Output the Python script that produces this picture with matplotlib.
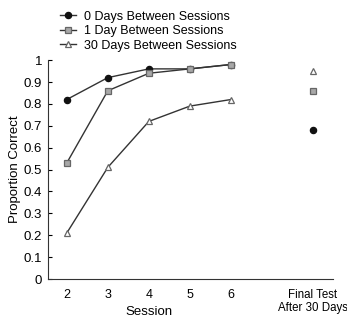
import matplotlib.pyplot as plt

plt.rcParams['font.family'] = ['Liberation Sans', 'DejaVu Sans']

sessions = [2, 3, 4, 5, 6]
final_x = 8
tick_labels = ['2', '3', '4', '5', '6', 'Final Test\nAfter 30 Days']

days0 = [0.82, 0.92, 0.96, 0.96, 0.98]
days1 = [0.53, 0.86, 0.94, 0.96, 0.98]
days30 = [0.21, 0.51, 0.72, 0.79, 0.82]
final0 = 0.68
final1 = 0.86
final30 = 0.95

fig = plt.figure(figsize=(3.47, 3.25), dpi=100)
ax = fig.add_axes([0.138, 0.1415, 0.822, 0.6735])

line_c = '#333333'
styles = [
    (days0, final0, 'o', '#111111', '#111111', '0 Days Between Sessions'),
    (days1, final1, 's', '#a8a8a8', '#666666', '1 Day Between Sessions'),
    (days30, final30, '^', 'white', '#666666', '30 Days Between Sessions'),
]
for vals, fin, m, fc, ec, lab in styles:
    ax.plot(sessions, vals, color=line_c, lw=1, marker=m, ms=4.5,
            mfc=fc, mec=ec, mew=0.9, label=lab)
    ax.plot([final_x], [fin], ls='none', marker=m, ms=4.5, mfc=fc, mec=ec, mew=0.9)

ax.set_xlim(1.54, 8.49)
ax.set_ylim(0, 1.0)
ax.set_yticks([i / 10 for i in range(11)])
ax.set_yticklabels(['0', '0.1', '0.2', '0.3', '0.4', '0.5', '0.6', '0.7', '0.8', '0.9', '1'])
ax.set_xticks(sessions + [final_x])
ax.set_xticklabels(tick_labels, linespacing=1.15)
ax.tick_params(axis='x', length=0, pad=7, labelsize=9)
ax.tick_params(axis='y', length=3, direction='in', labelsize=9.5, pad=4)
ax.get_xticklabels()[-1].set_fontsize(8.3)
for s in ['top', 'right']:
    ax.spines[s].set_visible(False)
for s in ['left', 'bottom']:
    ax.spines[s].set_color('#333333')
ax.set_ylabel('Proportion Correct', fontsize=9.5, labelpad=2)
ax.text(4, -0.125, 'Session', transform=ax.get_xaxis_transform(), ha='center', va='top', fontsize=9.5)

ax.legend(loc='lower left', bbox_to_anchor=(0.025, 1.015), frameon=False, fontsize=9,
          handlelength=1.3, handletextpad=0.6, labelspacing=0.2, borderaxespad=0)

fig.savefig('out.png', dpi=100)
